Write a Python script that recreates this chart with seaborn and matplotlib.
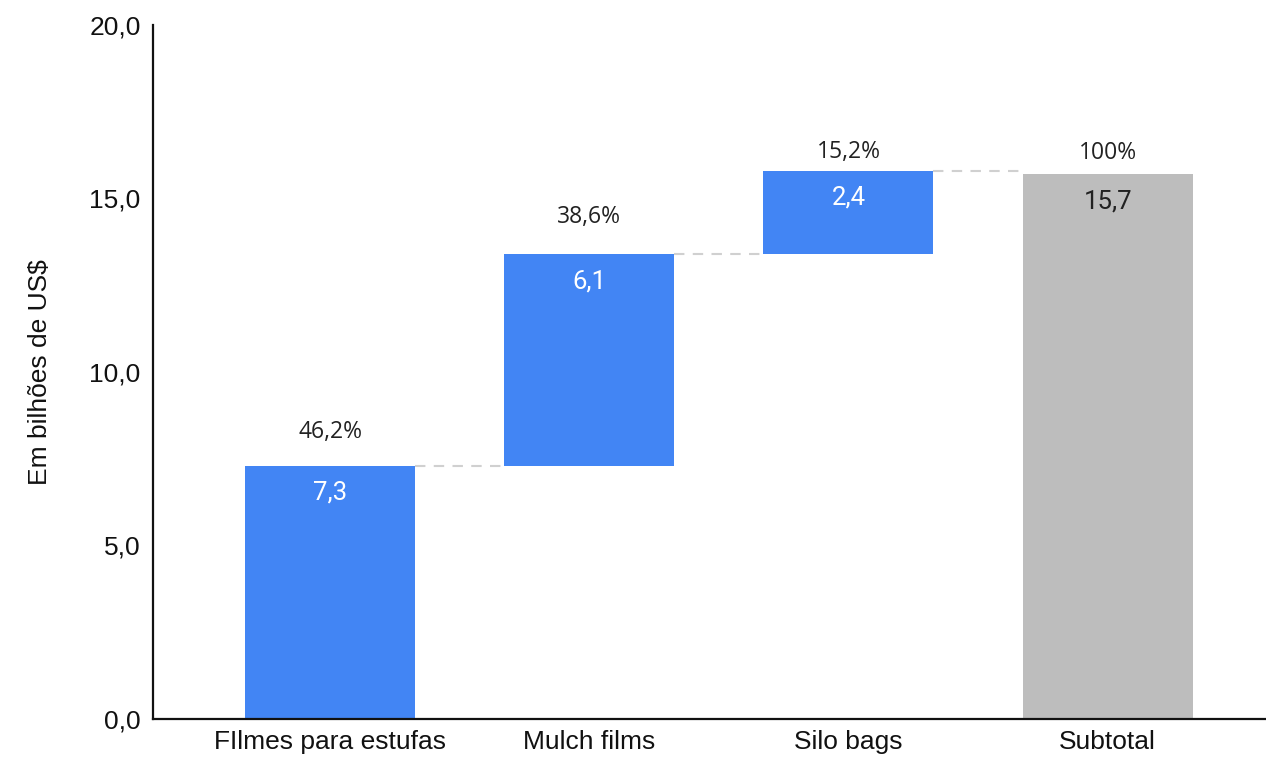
import matplotlib
matplotlib.use("Agg")
import matplotlib.pyplot as plt
import seaborn as sns
import numpy as np
import pandas as pd

# Waterfall data: market value by segment (billions of US$)
categories = ["FIlmes para estufas", "Mulch films", "Silo bags", "Subtotal"]
values = [7.3, 6.1, 2.4, 15.7]
is_total = [False, False, False, True]
shares = ["46,2%", "38,6%", "15,2%", "100%"]
value_labels = ["7,3", "6,1", "2,4", "15,7"]
y_ticks = [0, 5, 10, 15, 20]
y_tick_labels = ["0,0", "5,0", "10,0", "15,0", "20,0"]

# Floating bar bases: increments stack, the total starts from zero
bottoms = []
running = 0.0
for v, tot in zip(values, is_total):
    if tot:
        bottoms.append(0.0)
    else:
        bottoms.append(running)
        running += v
tops = [b + v for b, v in zip(bottoms, values)]

sns.set_theme(style="white")
plt.rcParams["font.family"] = ["Liberation Sans", "DejaVu Sans"]

blue = "#4285F4"
grey = "#BDBDBD"
colors = [grey if t else blue for t in is_total]

df = pd.DataFrame({"categoria": categories, "valor": values, "base": bottoms})

fig = plt.figure(figsize=(12.66, 7.57), dpi=100)
ax = fig.add_axes([0.1209, 0.0502, 0.8791, 0.9168])

bar_width = 0.656
sns.barplot(data=df, x="categoria", y="valor", order=categories,
            bottom=df["base"].to_numpy(), width=bar_width, color=blue,
            ax=ax, saturation=1, edgecolor="none", linewidth=0, errorbar=None)
for patch, c in zip(ax.patches, colors):
    patch.set_facecolor(c)

ax.set_xlim(-0.683, 3.611)
ax.set_ylim(0, 20)
ax.set_yticks(y_ticks)
ax.set_yticklabels(y_tick_labels, fontsize=19, color="#111111")
ax.tick_params(axis="x", labelsize=19, labelcolor="#111111", pad=8, length=0)
ax.tick_params(axis="y", pad=9, length=0)
ax.set_xlabel("")
ax.set_ylabel("Em bilhões de US$", fontsize=19, labelpad=27, color="#111111")

for side in ["top", "right"]:
    ax.spines[side].set_visible(False)
for side in ["left", "bottom"]:
    ax.spines[side].set_color("#111111")
    ax.spines[side].set_linewidth(1.6)

# Dashed connectors between consecutive bars
half = bar_width / 2
for i in range(len(categories) - 1):
    ax.plot([i + half, i + 1 - half], [tops[i], tops[i]],
            color="#D0D0D0", linestyle=(0, (5, 4)), linewidth=1.5, zorder=1)

# Share labels above bars (offset in points)
share_offsets = [24.5, 26.5, 13.5, 15]
for i, (s, t) in enumerate(zip(shares, tops)):
    ax.annotate(s, (i, t), xytext=(0, share_offsets[i]), textcoords="offset points",
                ha="center", va="center", fontsize=16.5, family="Open Sans",
                color="#222222")

# Value labels inside the bars
for i, (lab, t, tot) in enumerate(zip(value_labels, tops, is_total)):
    ax.annotate(lab, (i, t), xytext=(0, -19.5), textcoords="offset points",
                ha="center", va="center", fontsize=18.5, family="Roboto",
                color="#222222" if tot else "white")

fig.savefig("out.png", dpi=100)
